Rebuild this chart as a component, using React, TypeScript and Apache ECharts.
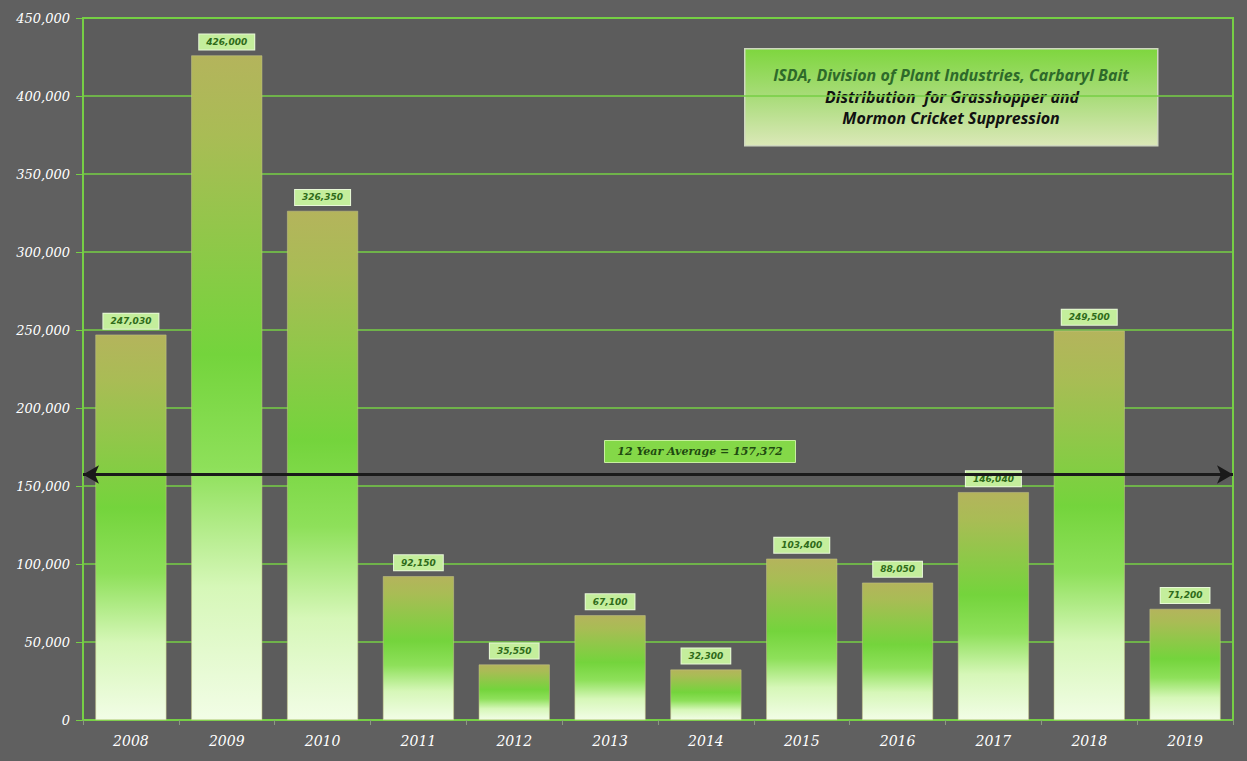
import React, { useEffect, useRef } from "react";
import * as echarts from "echarts";

const years = ["2008", "2009", "2010", "2011", "2012", "2013", "2014", "2015", "2016", "2017", "2018", "2019"];
const pounds = [247030, 426000, 326350, 92150, 35550, 67100, 32300, 103400, 88050, 146040, 249500, 71200];
const averageValue = 157372;
const averageLabel = "12 Year Average = 157,372";
const titleLines = [
  "ISDA, Division of Plant Industries, Carbaryl Bait",
  "Distribution  for Grasshopper and",
  "Mormon Cricket Suppression",
];

const GREEN = "#76cf45";

export default function App() {
  const ref = useRef<HTMLDivElement>(null);
  useEffect(() => {
    const chart = echarts.init(ref.current!, null, { renderer: "svg" });
    const barGradient = new echarts.graphic.LinearGradient(0, 0, 0, 1, [
      { offset: 0, color: "#b4b45c" },
      { offset: 0.12, color: "#a9bc55" },
      { offset: 0.45, color: "#74d43c" },
      { offset: 0.62, color: "#8ee05a" },
      { offset: 0.8, color: "#d6f7b8" },
      { offset: 1, color: "#f2fde6" },
    ]);
    const titleFont = "italic bold 16px 'Open Sans'";
    chart.setOption({
      animation: false,
      backgroundColor: "#606060",
      grid: {
        left: 83,
        right: 14,
        top: 18,
        bottom: 41,
        show: true,
        borderColor: GREEN,
        borderWidth: 2,
        backgroundColor: "#5c5c5c",
      },
      xAxis: {
        type: "category",
        data: years,
        axisLine: { lineStyle: { color: GREEN, width: 2 } },
        axisTick: { show: true, length: 5, lineStyle: { color: "#8a9a80" } },
        axisLabel: {
          color: "#ffffff",
          fontFamily: "DejaVu Serif",
          fontStyle: "italic",
          fontSize: 14,
          margin: 14,
        },
      },
      yAxis: {
        type: "value",
        min: 0,
        max: 450000,
        interval: 50000,
        axisLine: { show: true, lineStyle: { color: GREEN, width: 2 } },
        axisTick: { show: true, length: 7, lineStyle: { color: GREEN } },
        splitLine: { lineStyle: { color: GREEN, width: 1.5 } },
        axisLabel: {
          color: "#ffffff",
          fontFamily: "DejaVu Serif",
          fontStyle: "italic",
          fontSize: 13,
          margin: 13,
          formatter: (v: number) => v.toLocaleString("en-US"),
        },
      },
      series: [
        {
          type: "bar",
          data: pounds,
          barWidth: "74%",
          itemStyle: { color: barGradient, borderColor: "#c9c98a", borderWidth: 0.5 },
          label: {
            show: true,
            position: "top",
            distance: 6,
            formatter: (p: any) => p.value.toLocaleString("en-US"),
            color: "#2f6b1a",
            fontFamily: "DejaVu Sans",
            fontStyle: "italic",
            fontWeight: "bold",
            fontSize: 9,
            backgroundColor: "#c4ee9c",
            borderColor: "#e8f8d8",
            borderWidth: 1,
            padding: [3, 7, 3, 7],
          },
          markLine: {
            silent: true,
            symbol: ["arrow", "arrow"],
            symbolSize: [14, 16],
            lineStyle: { color: "#1a1a1a", width: 3, type: "solid" },
            data: [{ yAxis: averageValue }],
            label: { show: false },
          },
        },
      ],
      graphic: [
        {
          type: "rect",
          left: 604,
          top: 440,
          shape: { width: 191, height: 22 },
          style: { fill: "#84d848", stroke: "#c8ef9f", lineWidth: 1 },
        },
        {
          type: "text",
          x: 700,
          y: 451,
          style: {
            text: averageLabel,
            fill: "#1f4a10",
            font: "italic bold 11px 'DejaVu Serif'",
            textAlign: "center",
            textVerticalAlign: "middle",
          },
        },
        {
          type: "rect",
          left: 744,
          top: 48,
          shape: { width: 413, height: 97 },
          style: {
            fill: new echarts.graphic.LinearGradient(0, 0, 0, 1, [
              { offset: 0, color: "#7ed63e" },
              { offset: 0.5, color: "#a9dc7a" },
              { offset: 1, color: "#dbe8b8" },
            ]),
            stroke: "#cfd8bf",
            lineWidth: 1.5,
          },
        },
        {
          type: "text",
          x: 951,
          y: 75,
          style: {
            text: titleLines[0],
            fill: "#2e6a2a",
            font: titleFont,
            textAlign: "center",
            textVerticalAlign: "middle",
          },
        },
        {
          type: "text",
          x: 952,
          y: 97,
          style: {
            text: titleLines[1],
            fill: "#111111",
            font: titleFont,
            textAlign: "center",
            textVerticalAlign: "middle",
          },
        },
        {
          type: "text",
          x: 951,
          y: 118,
          style: {
            text: titleLines[2],
            fill: "#111111",
            font: titleFont,
            textAlign: "center",
            textVerticalAlign: "middle",
          },
        },
      ],
    });
    return () => chart.dispose();
  }, []);
  return (
    <div
      ref={ref}
      style={{ position: "fixed", left: 0, top: 0, width: 1247, height: 761 }}
    />
  );
}
